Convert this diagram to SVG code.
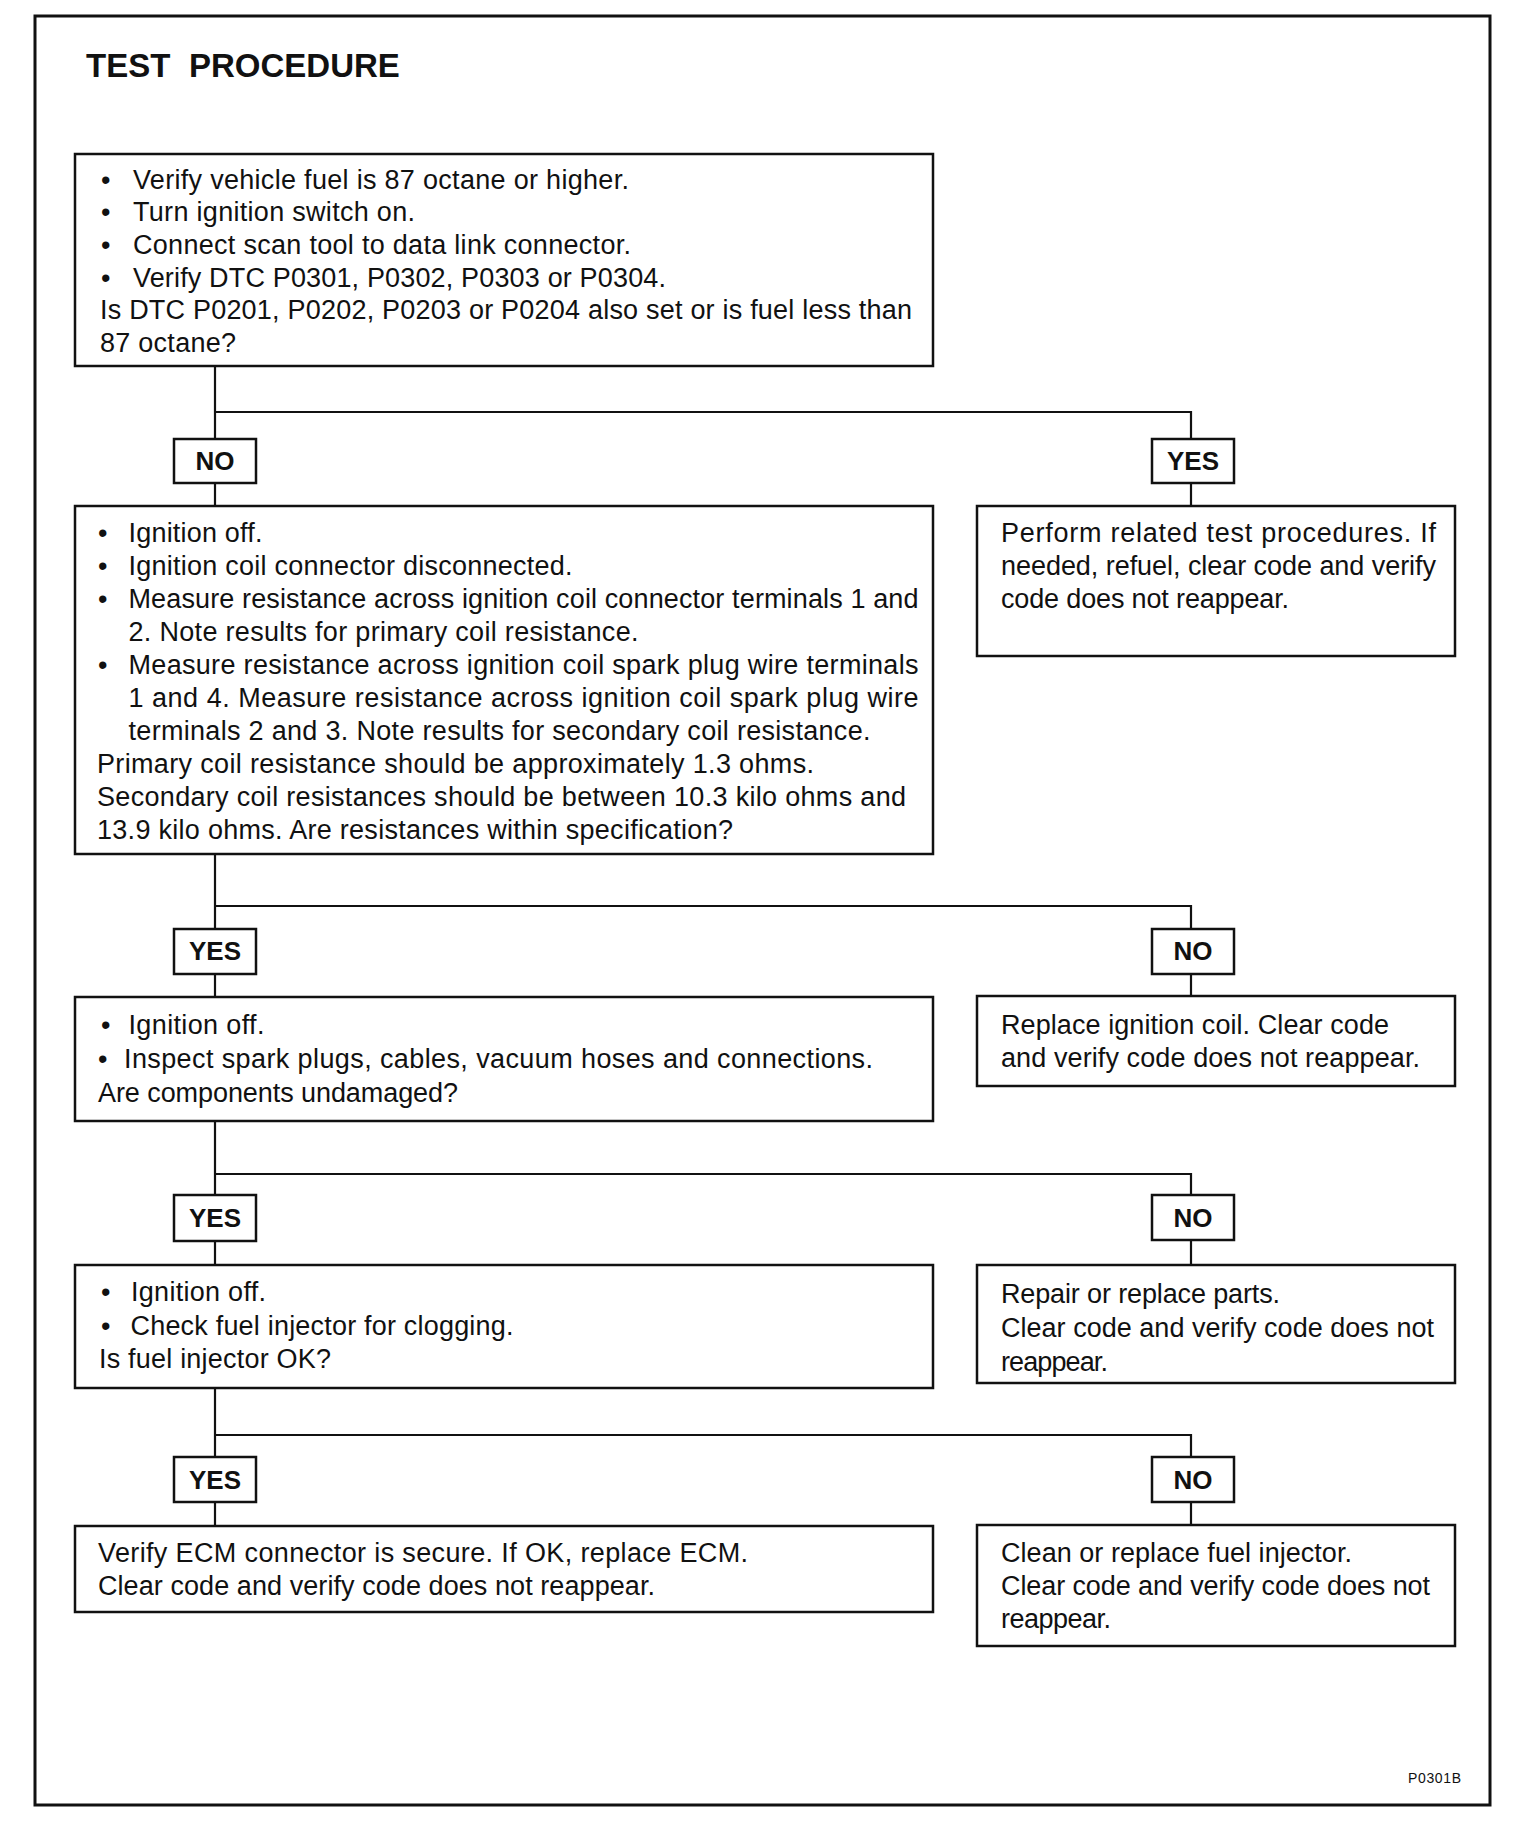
<svg xmlns="http://www.w3.org/2000/svg" width="1536" height="1832" viewBox="0 0 1536 1832">
<style>
.bg{fill:#fff}
.frame{fill:none;stroke:#111;stroke-width:3}
.box{fill:#fff;stroke:#111;stroke-width:2.5}
.lbl{fill:#fff;stroke:#111;stroke-width:2.5}
.con{fill:none;stroke:#111;stroke-width:2.2}
.t{font-family:"Liberation Sans",Arial,Helvetica,sans-serif;font-size:27px;fill:#111}
.lt{font-family:"Liberation Sans",Arial,Helvetica,sans-serif;font-size:26px;font-weight:bold;fill:#111;text-anchor:middle}
.title{font-family:"Liberation Sans",Arial,Helvetica,sans-serif;font-size:33px;font-weight:bold;fill:#111}
.code{font-family:"Liberation Sans",Arial,Helvetica,sans-serif;font-size:14px;fill:#111}
</style>
<rect class="bg" x="0" y="0" width="1536" height="1832"/>
<rect class="frame" x="35" y="16" width="1455" height="1789"/>
<text class="title" x="86" y="77">TEST<tspan x="189">PROCEDURE</tspan></text>

<g id="connectors">
<path class="con" d="M215,366 V506 M215,412 H1191 V506"/>
<path class="con" d="M215,854 V997 M215,906 H1191 V996"/>
<path class="con" d="M215,1121 V1265 M215,1174 H1191 V1265"/>
<path class="con" d="M215,1388 V1526 M215,1435 H1191 V1525"/>
</g>

<g id="n1">
<rect class="box" x="75" y="154" width="858" height="212"/>
<text class="t" x="101" y="189">•</text><text class="t" x="133" y="189" textLength="496">Verify vehicle fuel is 87 octane or higher.</text>
<text class="t" x="101" y="221">•</text><text class="t" x="133" y="221" textLength="282">Turn ignition switch on.</text>
<text class="t" x="101" y="254">•</text><text class="t" x="133" y="254" textLength="498">Connect scan tool to data link connector.</text>
<text class="t" x="101" y="287">•</text><text class="t" x="133" y="287" textLength="533">Verify DTC P0301, P0302, P0303 or P0304.</text>
<text class="t" x="100" y="319" textLength="812">Is DTC P0201, P0202, P0203 or P0204 also set or is fuel less than</text>
<text class="t" x="100" y="352" textLength="136">87 octane?</text>
</g>

<g id="l1no"><rect class="lbl" x="174" y="439" width="82" height="44"/><text class="lt" x="215" y="470">NO</text></g>
<g id="l1yes"><rect class="lbl" x="1152" y="439" width="82" height="44"/><text class="lt" x="1193" y="470">YES</text></g>

<g id="n2">
<rect class="box" x="75" y="506" width="858" height="348"/>
<text class="t" x="98" y="542">•</text><text class="t" x="128.5" y="542" textLength="134">Ignition off.</text>
<text class="t" x="98" y="575">•</text><text class="t" x="128.5" y="575" textLength="444">Ignition coil connector disconnected.</text>
<text class="t" x="98" y="608">•</text><text class="t" x="128.5" y="608" textLength="790">Measure resistance across ignition coil connector terminals 1 and</text>
<text class="t" x="128.5" y="641" textLength="510">2. Note results for primary coil resistance.</text>
<text class="t" x="98" y="674">•</text><text class="t" x="128.5" y="674" textLength="790">Measure resistance across ignition coil spark plug wire terminals</text>
<text class="t" x="128.5" y="707" textLength="790">1 and 4. Measure resistance across ignition coil spark plug wire</text>
<text class="t" x="128.5" y="740" textLength="742">terminals 2 and 3. Note results for secondary coil resistance.</text>
<text class="t" x="97" y="773" textLength="717">Primary coil resistance should be approximately 1.3 ohms.</text>
<text class="t" x="97" y="806" textLength="809">Secondary coil resistances should be between 10.3 kilo ohms and</text>
<text class="t" x="97" y="839" textLength="636">13.9 kilo ohms. Are resistances within specification?</text>
</g>

<g id="n3">
<rect class="box" x="977" y="506" width="478" height="150"/>
<text class="t" x="1001" y="542" textLength="435">Perform related test procedures. If</text>
<text class="t" x="1001" y="575" textLength="435">needed, refuel, clear code and verify</text>
<text class="t" x="1001" y="608" textLength="288">code does not reappear.</text>
</g>

<g id="l2yes"><rect class="lbl" x="174" y="929" width="82" height="45"/><text class="lt" x="215" y="960">YES</text></g>
<g id="l2no"><rect class="lbl" x="1152" y="929" width="82" height="45"/><text class="lt" x="1193" y="960">NO</text></g>

<g id="n4">
<rect class="box" x="75" y="997" width="858" height="124"/>
<text class="t" x="101" y="1034">•</text><text class="t" x="128.5" y="1034" textLength="136">Ignition off.</text>
<text class="t" x="98" y="1068">•</text><text class="t" x="124" y="1068" textLength="749">Inspect spark plugs, cables, vacuum hoses and connections.</text>
<text class="t" x="98" y="1102" textLength="360">Are components undamaged?</text>
</g>

<g id="n5">
<rect class="box" x="977" y="996" width="478" height="90"/>
<text class="t" x="1001" y="1034" textLength="388">Replace ignition coil. Clear code</text>
<text class="t" x="1001" y="1067" textLength="419">and verify code does not reappear.</text>
</g>

<g id="l3yes"><rect class="lbl" x="174" y="1195" width="82" height="46"/><text class="lt" x="215" y="1227">YES</text></g>
<g id="l3no"><rect class="lbl" x="1152" y="1195" width="82" height="45"/><text class="lt" x="1193" y="1227">NO</text></g>

<g id="n6">
<rect class="box" x="75" y="1265" width="858" height="123"/>
<text class="t" x="101" y="1301">•</text><text class="t" x="131" y="1301" textLength="135">Ignition off.</text>
<text class="t" x="101" y="1335">•</text><text class="t" x="130.5" y="1335" textLength="383">Check fuel injector for clogging.</text>
<text class="t" x="99" y="1368" textLength="232">Is fuel injector OK?</text>
</g>

<g id="n7">
<rect class="box" x="977" y="1265" width="478" height="118"/>
<text class="t" x="1001" y="1303" textLength="279">Repair or replace parts.</text>
<text class="t" x="1001" y="1337" textLength="433">Clear code and verify code does not</text>
<text class="t" x="1001" y="1371" textLength="107">reappear.</text>
</g>

<g id="l4yes"><rect class="lbl" x="174" y="1457" width="82" height="45"/><text class="lt" x="215" y="1489">YES</text></g>
<g id="l4no"><rect class="lbl" x="1152" y="1457" width="82" height="45"/><text class="lt" x="1193" y="1489">NO</text></g>

<g id="n8">
<rect class="box" x="75" y="1526" width="858" height="86"/>
<text class="t" x="98" y="1562" textLength="650">Verify ECM connector is secure. If OK, replace ECM.</text>
<text class="t" x="98" y="1595" textLength="557">Clear code and verify code does not reappear.</text>
</g>

<g id="n9">
<rect class="box" x="977" y="1525" width="478" height="121"/>
<text class="t" x="1001" y="1562" textLength="351">Clean or replace fuel injector.</text>
<text class="t" x="1001" y="1595" textLength="429">Clear code and verify code does not</text>
<text class="t" x="1001" y="1628" textLength="110">reappear.</text>
</g>

<text class="code" x="1408" y="1783" textLength="53">P0301B</text>
</svg>
